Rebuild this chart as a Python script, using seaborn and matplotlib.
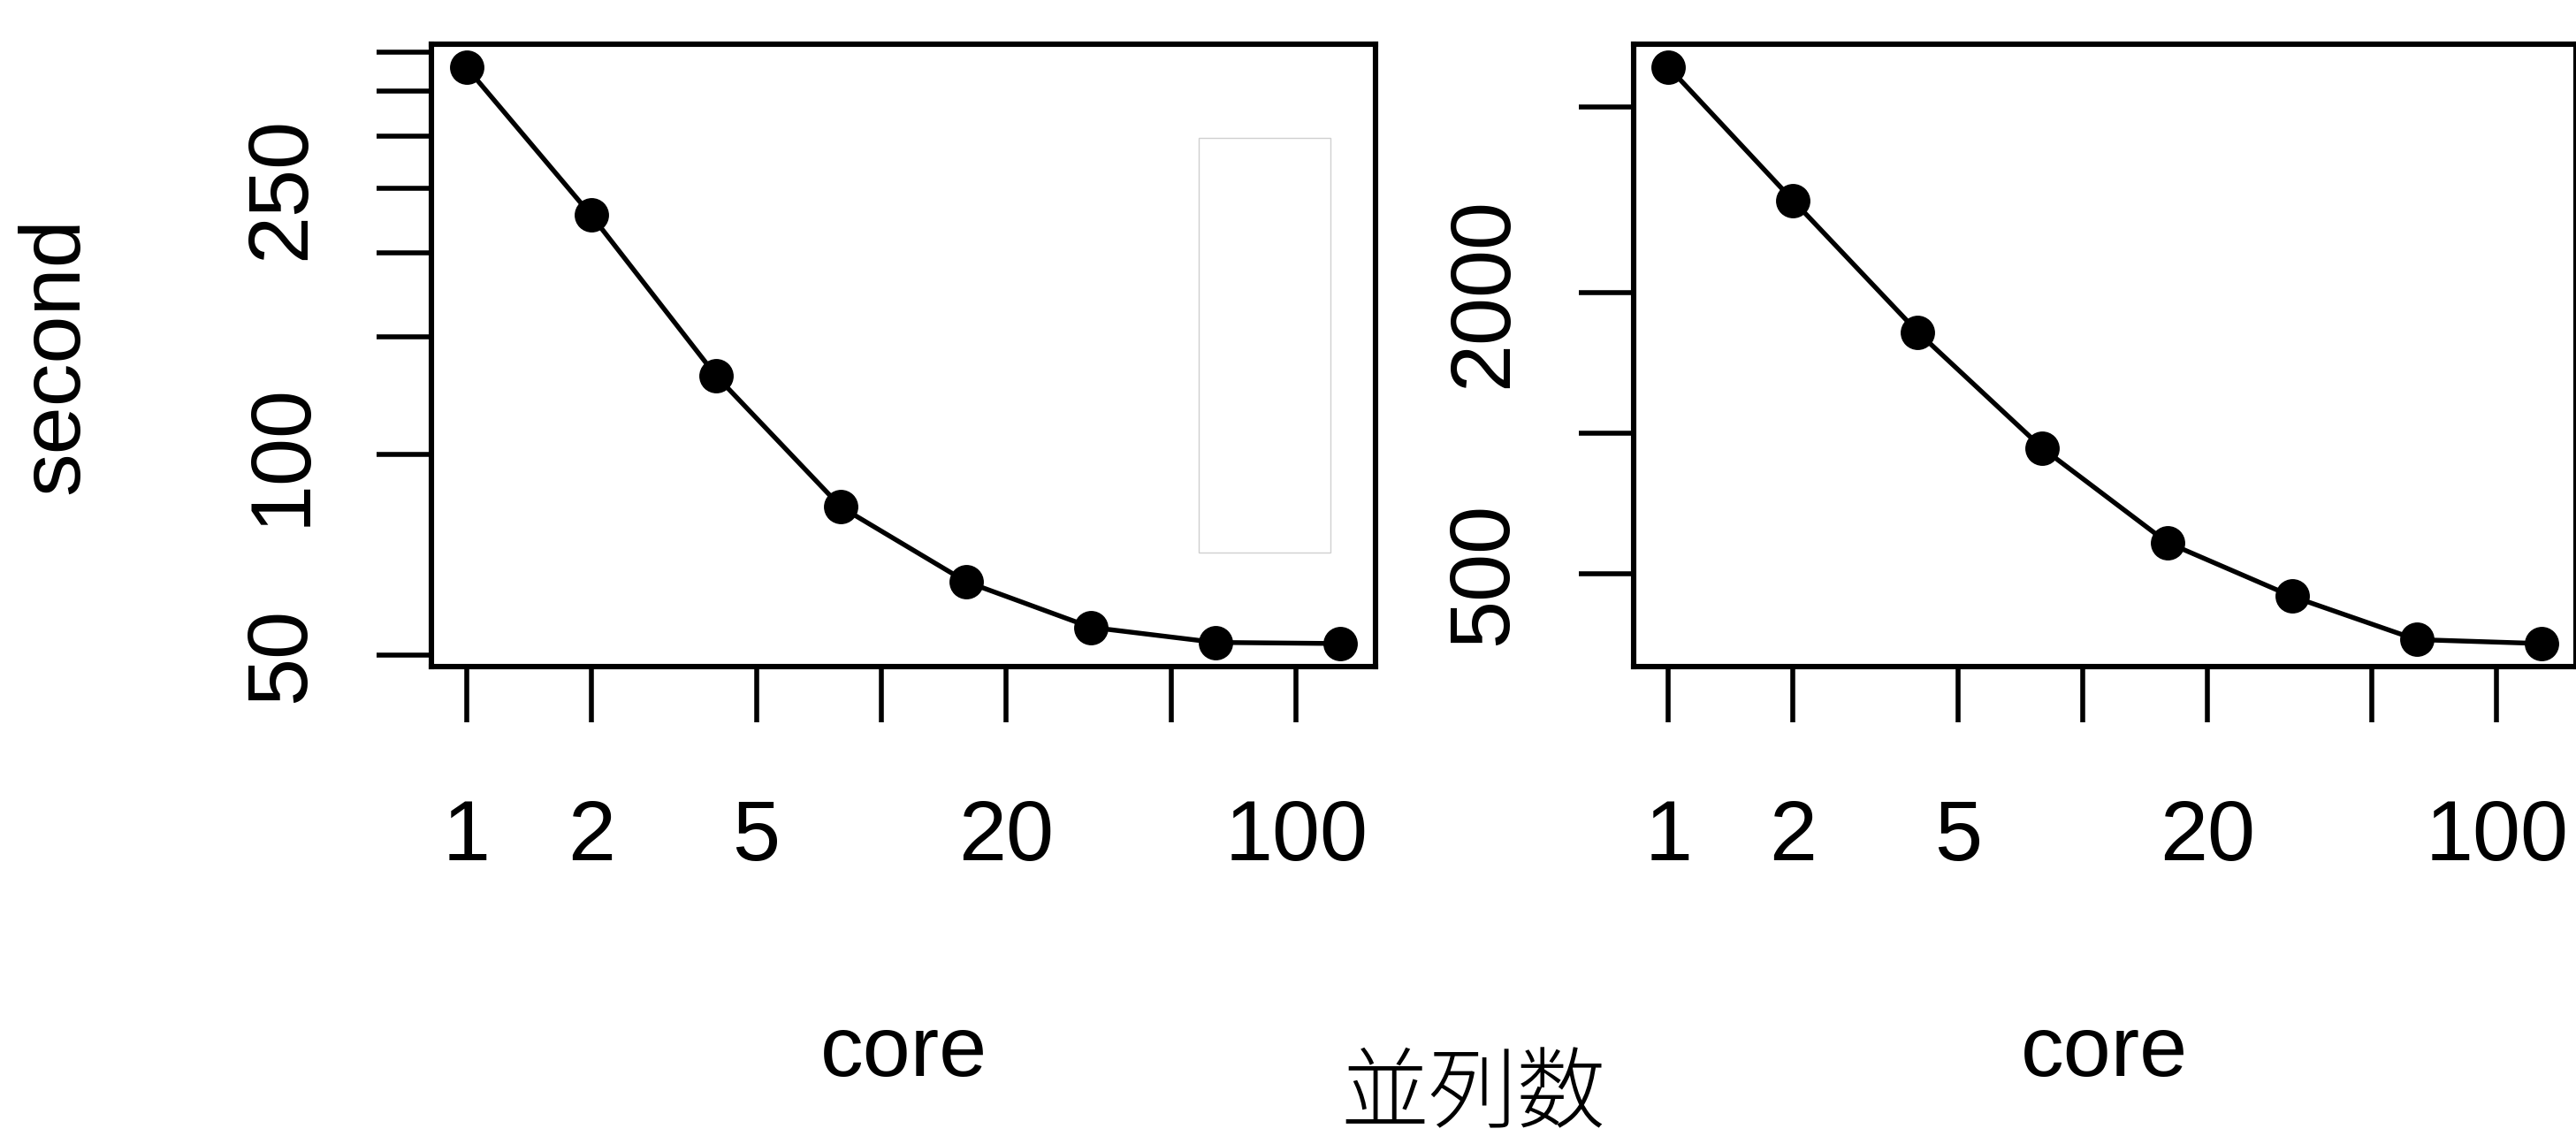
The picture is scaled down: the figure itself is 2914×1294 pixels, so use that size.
import matplotlib
matplotlib.use("Agg")
import matplotlib.pyplot as plt
import numpy as np
import pandas as pd
import seaborn as sns
from matplotlib.ticker import NullLocator, FixedLocator, FixedFormatter
from matplotlib.patches import Rectangle

# ---- data ----
cores = [1, 2, 4, 8, 16, 32, 64, 128]
seconds_left = [380, 228, 131, 83.3, 64.4, 55.0, 52.2, 52.0]
seconds_right = [6085, 3150, 1646, 928, 583, 447, 361, 354]

x_ticks = [1, 2, 5, 10, 20, 50, 100]
x_ticklabels = ["1", "2", "5", "", "20", "", "100"]
left_y_ticks = [50, 100, 150, 200, 250, 300, 350, 400]
left_y_ticklabels = ["50", "100", "", "", "250", "", "", ""]
right_y_ticks = [500, 1000, 2000, 5000]
right_y_ticklabels = ["500", "", "2000", ""]

x_label = "core"
y_label = "second"
bottom_text = "並列数"

sns.set_theme(style="white")
plt.rcParams["font.family"] = ["Liberation Sans", "Noto Sans CJK JP", "DejaVu Sans"]

W, H = 2914, 1294
DPI = 100
fig = plt.figure(figsize=(W / DPI, H / DPI), dpi=DPI)
fig.patch.set_facecolor("white")

FS = 70
LW_BOX = 4.4
LW_TICK = 4.0


def r_limits(vals):
    lo, hi = np.log(min(vals)), np.log(max(vals))
    ext = 0.04 * (hi - lo)
    return np.exp(lo - ext), np.exp(hi + ext)


def make_panel(rect, yvals, yticks, yticklabels, ylabel=None):
    ax = fig.add_axes(rect)
    ax.set_facecolor("white")
    ax.set_xscale("log")
    ax.set_yscale("log")
    df = pd.DataFrame({"core": cores, "second": yvals})
    sns.lineplot(data=df, x="core", y="second", ax=ax, color="black",
                 linewidth=3.9, marker="o", markersize=28,
                 markeredgewidth=0, markerfacecolor="black")
    ax.set_xlim(*r_limits(cores))
    ax.set_ylim(*r_limits(yvals))
    ax.xaxis.set_major_locator(FixedLocator(x_ticks))
    ax.xaxis.set_major_formatter(FixedFormatter(x_ticklabels))
    ax.xaxis.set_minor_locator(NullLocator())
    ax.yaxis.set_major_locator(FixedLocator(yticks))
    ax.yaxis.set_major_formatter(FixedFormatter(yticklabels))
    ax.yaxis.set_minor_locator(NullLocator())
    for s in ax.spines.values():
        s.set_visible(True)
        s.set_color("black")
        s.set_linewidth(LW_BOX)
    ax.tick_params(axis="both", which="major", direction="out", length=45,
                   width=LW_TICK, color="black", labelsize=FS,
                   labelcolor="black", bottom=True, left=True)
    ax.tick_params(axis="x", pad=62)
    ax.tick_params(axis="y", pad=44, labelrotation=90)
    for lab in ax.get_yticklabels():
        lab.set_va("center")
    ax.grid(False)
    ax.set_xlabel(x_label, fontsize=FS, color="black")
    ax.xaxis.set_label_coords(0.5, (754 - 1192) / 704)
    ax.xaxis.label.set_va("center")
    if ylabel:
        ax.set_ylabel(ylabel, fontsize=FS, color="black")
        ax.yaxis.set_label_coords((63 - 488) / 1068, 0.5)
        ax.yaxis.label.set_va("center")
        ax.yaxis.label.set_ha("center")
    else:
        ax.set_ylabel("")
    return ax


axL = make_panel([488 / W, (H - 754) / H, 1068 / W, 704 / H],
                 seconds_left, left_y_ticks, left_y_ticklabels, y_label)
axR = make_panel([1848 / W, (H - 754) / H, 1066 / W, 704 / H],
                 seconds_right, right_y_ticks, right_y_ticklabels, None)

# faint empty legend box in the left panel
axL.add_patch(Rectangle((0.813, 0.183), 0.139, 0.666, transform=axL.transAxes,
                        fill=False, edgecolor="#d0d0d0", linewidth=1.0))

fig.text(1666 / W, 2 / H, bottom_text, ha="center", va="bottom",
         fontsize=72, fontweight="light", color="black",
         family=["Noto Sans CJK JP", "DejaVu Sans"])

fig.savefig("out.png", dpi=DPI, facecolor="white")
